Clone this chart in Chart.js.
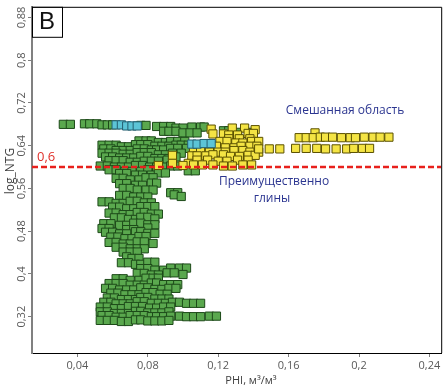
<!DOCTYPE html>
<html><head><meta charset="utf-8">
<script src="https://cdn.jsdelivr.net/npm/chart.js@4/dist/chart.umd.min.js"></script>
<style>html,body{margin:0;padding:0;background:#fff}canvas{display:block}</style>
</head><body>
<canvas id="c" width="448" height="389"></canvas>
<script>
// ---- axis ranges / ticks ----
const xTicks = [0.04, 0.08, 0.12, 0.16, 0.2, 0.24];
const yTicks = [0.32, 0.4, 0.48, 0.56, 0.64, 0.72, 0.8, 0.88];
const xRange = [0.0142, 0.2467];
const yRange = [0.252, 0.900];
const threshold = 0.6;
const thresholdLabel = '0,6';
const xTitle = 'PHI, м³/м³';
const yTitle = 'log_NTG';
const panelLabel = 'B';
const labelMixed = 'Смешанная область';
const labelClay = ['Преимущественно', 'глины'];

// ---- data groups: [log_NTG, [PHI values ...]] ----
const greenRows = [
  [0.680, [0.032, 0.036]], [0.681, [0.044, 0.047, 0.051]], [0.679, [0.054, 0.057, 0.060]], [0.678, [0.076, 0.079]],
  [0.676, [0.085, 0.089, 0.093]], [0.673, [0.096, 0.100]], [0.675, [0.105, 0.110, 0.112]],
  [0.667, [0.089, 0.092, 0.096]], [0.664, [0.100, 0.104, 0.108]], [0.668, [0.123, 0.126]], [0.665, [0.131, 0.138]],
  [0.649, [0.075, 0.079, 0.082]], [0.646, [0.086, 0.090]], [0.648, [0.093, 0.097, 0.101]],
  [0.641, [0.054, 0.058, 0.062]], [0.638, [0.065, 0.069]], [0.642, [0.073, 0.076, 0.080]], [0.639, [0.084, 0.088, 0.092]], [0.641, [0.096, 0.099, 0.103]],
  [0.634, [0.055, 0.059]], [0.631, [0.062, 0.066, 0.070]], [0.634, [0.074, 0.078]], [0.632, [0.082, 0.085, 0.089]], [0.635, [0.093, 0.097, 0.102]],
  [0.626, [0.054, 0.058, 0.062]], [0.624, [0.066, 0.070]], [0.627, [0.074, 0.078, 0.082]], [0.623, [0.086, 0.090]], [0.626, [0.094, 0.099]],
  [0.619, [0.056, 0.060]], [0.617, [0.064, 0.068, 0.072]], [0.620, [0.076, 0.080]], [0.616, [0.084, 0.088, 0.092]], [0.619, [0.096]],
  [0.612, [0.058, 0.062, 0.066]], [0.609, [0.070, 0.074]], [0.611, [0.078, 0.082, 0.086]], [0.613, [0.091]],
  [0.602, [0.053, 0.057]], [0.600, [0.061, 0.065, 0.069]], [0.603, [0.073, 0.077]], [0.600, [0.081, 0.085, 0.089]], [0.602, [0.093, 0.097]],
  [0.595, [0.058, 0.062]], [0.592, [0.067, 0.071, 0.076]], [0.595, [0.080, 0.085]], [0.593, [0.103, 0.107]],
  [0.588, [0.064, 0.068]], [0.585, [0.073, 0.077, 0.082]], [0.589, [0.086, 0.090]],
  [0.579, [0.062, 0.066]], [0.576, [0.070, 0.075]], [0.580, [0.079, 0.083]],
  [0.569, [0.064, 0.068]], [0.566, [0.073, 0.077]], [0.570, [0.082, 0.085]],
  [0.560, [0.066, 0.070]], [0.557, [0.074, 0.079, 0.083]],
  [0.552, [0.093, 0.097]],
  [0.547, [0.064, 0.068]], [0.544, [0.072, 0.076, 0.080]], [0.548, [0.095]], [0.545, [0.099]],
  [0.535, [0.054, 0.058]], [0.532, [0.062, 0.066]], [0.536, [0.070, 0.074]], [0.533, [0.078, 0.082]],
  [0.525, [0.060, 0.064]], [0.522, [0.068, 0.072]], [0.526, [0.076, 0.080, 0.084]],
  [0.514, [0.058, 0.062]], [0.511, [0.066, 0.070]], [0.515, [0.074, 0.078]], [0.512, [0.082, 0.086]],
  [0.505, [0.061, 0.065]], [0.502, [0.069, 0.073]], [0.506, [0.076, 0.080]], [0.503, [0.084]],
  [0.494, [0.055, 0.059]], [0.491, [0.064, 0.068]], [0.495, [0.072, 0.076]], [0.492, [0.080, 0.084]],
  [0.485, [0.054, 0.058]], [0.483, [0.068, 0.072]], [0.486, [0.080]],
  [0.478, [0.056, 0.060]], [0.475, [0.064, 0.068]], [0.479, [0.073, 0.076]], [0.476, [0.080, 0.084]],
  [0.469, [0.059, 0.063]], [0.466, [0.067, 0.071]], [0.470, [0.075, 0.079]],
  [0.459, [0.058, 0.062]], [0.456, [0.066, 0.070]], [0.460, [0.074, 0.078]], [0.457, [0.083]],
  [0.450, [0.062, 0.066]], [0.447, [0.070, 0.074, 0.078]],
  [0.441, [0.066, 0.070, 0.074]],
  [0.432, [0.068]], [0.429, [0.071, 0.075]],
  [0.421, [0.065, 0.069]], [0.418, [0.073, 0.076]], [0.422, [0.080, 0.084]],
  [0.410, [0.076, 0.080]], [0.407, [0.084, 0.089]], [0.411, [0.093, 0.098, 0.102]],
  [0.401, [0.074, 0.078]], [0.398, [0.082, 0.086]], [0.402, [0.091, 0.095]], [0.399, [0.100]],
  [0.391, [0.062, 0.066]], [0.388, [0.070, 0.075]], [0.392, [0.079, 0.083, 0.086]],
  [0.382, [0.058, 0.062, 0.066]], [0.379, [0.070, 0.074, 0.078]], [0.383, [0.082, 0.085]], [0.380, [0.089, 0.093, 0.097]],
  [0.373, [0.056, 0.060]], [0.370, [0.064, 0.068, 0.072]], [0.374, [0.076, 0.080]], [0.371, [0.084, 0.088]], [0.373, [0.092, 0.096]],
  [0.364, [0.059, 0.063]], [0.361, [0.067, 0.071, 0.075]], [0.365, [0.079, 0.083]], [0.362, [0.087, 0.091]],
  [0.355, [0.057, 0.061]], [0.352, [0.065, 0.069, 0.073]], [0.356, [0.076, 0.080]], [0.353, [0.084, 0.088, 0.092]],
  [0.347, [0.055, 0.059]], [0.344, [0.062, 0.066, 0.070]], [0.348, [0.074, 0.078]], [0.345, [0.082, 0.086, 0.090]], [0.347, [0.094, 0.098]], [0.345, [0.102, 0.106, 0.110]],
  [0.338, [0.053, 0.057]], [0.335, [0.061, 0.065]], [0.339, [0.069, 0.073, 0.077]], [0.336, [0.081, 0.085]], [0.338, [0.089, 0.093]],
  [0.329, [0.053, 0.057]], [0.326, [0.061, 0.065, 0.069]], [0.330, [0.073, 0.076]], [0.327, [0.080, 0.084, 0.088]], [0.329, [0.092]],
  [0.322, [0.054, 0.058]], [0.319, [0.062, 0.066]], [0.322, [0.070, 0.074, 0.078]], [0.320, [0.082, 0.085, 0.089]], [0.321, [0.093, 0.098]], [0.320, [0.102, 0.106, 0.110]], [0.321, [0.115, 0.119]],
  [0.313, [0.053, 0.057, 0.061]], [0.311, [0.065, 0.069]], [0.314, [0.073, 0.076]], [0.312, [0.080, 0.084, 0.088]], [0.313, [0.092]]
];
const yellowRows = [
  [0.671, [0.116]], [0.673, [0.128, 0.135]], [0.670, [0.141]],
  [0.662, [0.117, 0.123]], [0.660, [0.126, 0.131]], [0.663, [0.137, 0.140]],
  [0.653, [0.126, 0.132, 0.138]],
  [0.648, [0.121, 0.125]], [0.645, [0.130, 0.134]], [0.648, [0.139, 0.143]],
  [0.639, [0.111, 0.115, 0.119]], [0.636, [0.124, 0.129]], [0.639, [0.133, 0.138, 0.142]],
  [0.630, [0.106, 0.110]], [0.628, [0.115, 0.120, 0.124]], [0.631, [0.129, 0.134]], [0.628, [0.138, 0.143]],
  [0.622, [0.094]], [0.621, [0.105, 0.108, 0.113]], [0.623, [0.117, 0.123]], [0.620, [0.127, 0.132]], [0.622, [0.137, 0.141]],
  [0.613, [0.108, 0.114]], [0.611, [0.120, 0.125]], [0.613, [0.131, 0.137]],
  [0.607, [0.094, 0.103]],
  [0.603, [0.086, 0.100]], [0.604, [0.106, 0.111, 0.117]], [0.602, [0.123, 0.128]], [0.604, [0.134, 0.139]],
  [0.664, [0.175]],
  [0.655, [0.166, 0.170, 0.174]], [0.656, [0.178, 0.181, 0.185]], [0.655, [0.190, 0.195, 0.198]], [0.656, [0.203, 0.208, 0.212, 0.217]],
  [0.634, [0.143, 0.149, 0.155]], [0.635, [0.164, 0.170, 0.176]], [0.634, [0.181, 0.187, 0.193]], [0.635, [0.197, 0.202, 0.206]]
];
const cyanRows = [
  [0.679, [0.062, 0.065]], [0.677, [0.068, 0.071, 0.074]],
  [0.643, [0.105, 0.108]], [0.644, [0.112, 0.116]]
];

function toPoints(rows) {
  const pts = [];
  rows.forEach(([y, xs]) => xs.forEach(x => pts.push({ x, y })));
  return pts;
}
const fmt = v => String(+v.toFixed(2)).replace('.', ',');

const markerBase = { pointStyle: 'rect', pointRadius: 5.8, pointHoverRadius: 5.8, pointBorderWidth: 1, showLine: false };

const overlay = {
  id: 'overlay',
  afterDraw(chart) {
    const { ctx, chartArea: a, scales } = chart;
    const ys = scales.y;
    ctx.save();
    ctx.strokeStyle = '#000';
    ctx.lineWidth = 1;
    ctx.beginPath();
    ctx.moveTo(a.left, a.top + 0.5);
    ctx.lineTo(a.right + 0.5, a.top + 0.5);
    ctx.lineTo(a.right + 0.5, a.bottom);
    ctx.stroke();
    ctx.fillStyle = '#fff';
    ctx.fillRect(a.left + 1, a.top + 1, 29, 30);
    ctx.strokeRect(a.left + 0.5, a.top + 0.5, 30, 30);
    ctx.fillStyle = '#111';
    ctx.font = '24px "Liberation Sans", Arial, sans-serif';
    ctx.textAlign = 'center';
    ctx.textBaseline = 'middle';
    ctx.fillText(panelLabel, a.left + 15, a.top + 16);
    ctx.fillStyle = '#595959';
    ctx.font = '11px "Open Sans", sans-serif';
    yTicks.forEach(v => {
      const py = ys.getPixelForValue(v);
      ctx.save();
      ctx.translate(a.left - 10, py);
      ctx.rotate(-Math.PI / 2);
      ctx.fillText(fmt(v), 0, 0);
      ctx.restore();
    });
    ctx.fillStyle = '#404040';
    ctx.font = '12px "Open Sans", sans-serif';
    ctx.save();
    ctx.translate(11, 171);
    ctx.rotate(-Math.PI / 2);
    ctx.fillText(yTitle, 0, 0);
    ctx.restore();
    ctx.font = '11px "Open Sans", sans-serif';
    ctx.fillText(xTitle, 251, 381);
    ctx.fillStyle = '#e0302a';
    ctx.font = '13px "Open Sans", sans-serif';
    ctx.textAlign = 'left';
    ctx.fillText(thresholdLabel, a.left + 5, ys.getPixelForValue(threshold) - 10);
    ctx.fillStyle = '#2b3590';
    ctx.font = '12px "Open Sans", sans-serif';
    ctx.textAlign = 'center';
    ctx.fillText(labelMixed, 345, 111);
    ctx.fillText(labelClay[0], 274, 182);
    ctx.fillText(labelClay[1], 272, 199);
    ctx.restore();
  }
};

new Chart(document.getElementById('c'), {
  type: 'scatter',
  data: {
    datasets: [
      {
        type: 'line', label: 'threshold', order: 0,
        data: [{ x: xRange[0], y: threshold }, { x: xRange[1], y: threshold }],
        borderColor: '#e8201c', borderWidth: 2.5, borderDash: [6, 3],
        pointRadius: 0, showLine: true, fill: false
      },
      Object.assign({ label: 'cyan', order: 1, data: toPoints(cyanRows),
        backgroundColor: '#5cc4d6', borderColor: '#245f70' }, markerBase),
      Object.assign({ label: 'yellow', order: 2, data: toPoints(yellowRows),
        backgroundColor: '#f4e444', borderColor: '#5a5000' }, markerBase),
      Object.assign({ label: 'green', order: 3, data: toPoints(greenRows),
        backgroundColor: '#5aa84e', borderColor: '#1d4a19' }, markerBase)
    ]
  },
  options: {
    responsive: false,
    devicePixelRatio: 1,
    animation: false,
    layout: { padding: { top: 1, right: 2, left: 0, bottom: 0 } },
    plugins: { legend: { display: false }, tooltip: { enabled: false } },
    scales: {
      x: {
        type: 'linear', min: xRange[0], max: xRange[1],
        afterBuildTicks: s => { s.ticks = xTicks.map(v => ({ value: v })); },
        afterFit: s => { s.height = 36; },
        grid: { display: true, drawOnChartArea: false, drawTicks: true, tickLength: 4, color: '#808080' },
        border: { display: true, color: '#000', width: 1 },
        ticks: { callback: v => fmt(v), color: '#595959', padding: 2,
          font: { family: '"Open Sans", sans-serif', size: 11 }, maxRotation: 0, autoSkip: false }
      },
      y: {
        type: 'linear', min: yRange[0], max: yRange[1],
        afterBuildTicks: s => { s.ticks = yTicks.map(v => ({ value: v })); },
        afterFit: s => { s.width = 32; },
        grid: { display: true, drawOnChartArea: false, drawTicks: true, tickLength: 4, color: '#808080' },
        border: { display: true, color: '#808080', width: 2 },
        ticks: { display: false }
      }
    }
  },
  plugins: [overlay]
});
</script>
</body></html>
